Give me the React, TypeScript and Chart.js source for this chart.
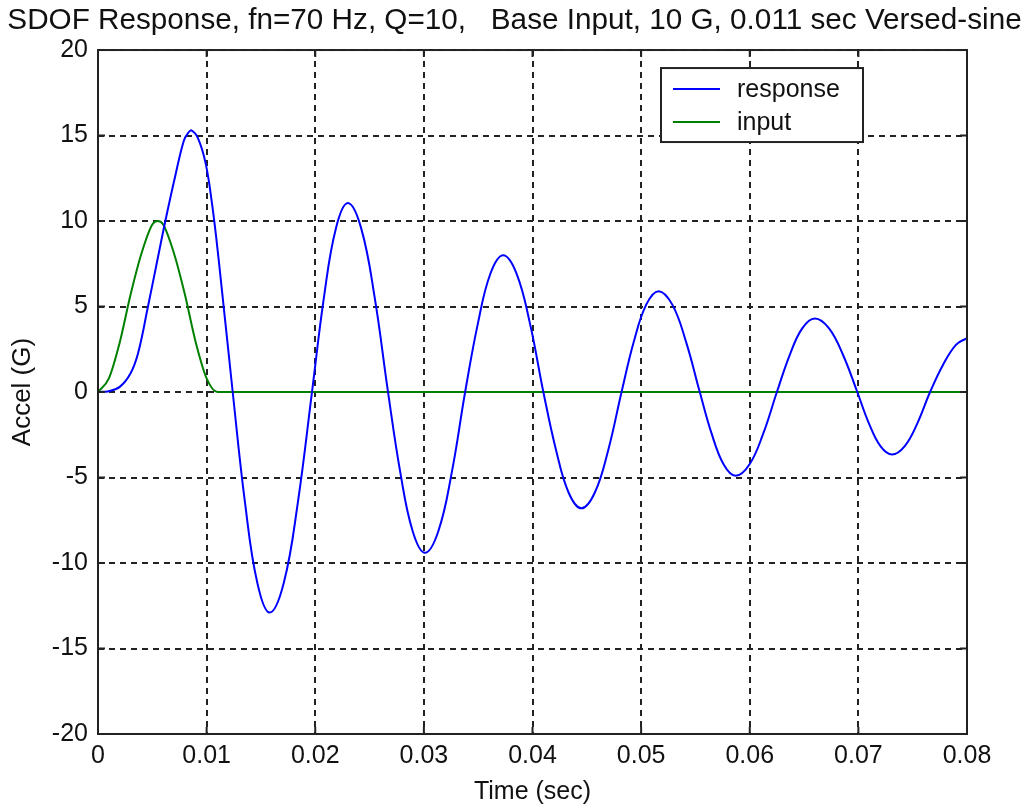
import React, { useEffect, useRef } from "react";
import { Chart, registerables } from "chart.js";

Chart.register(...registerables);

// ---- Data ----
const titleText = "SDOF Response, fn=70 Hz, Q=10,   Base Input, 10 G, 0.011 sec Versed-sine";
const xAxisTitle = "Time (sec)";
const yAxisTitle = "Accel (G)";
const seriesNames = ["response", "input"];

const xTickLabels = ["0", "0.01", "0.02", "0.03", "0.04", "0.05", "0.06", "0.07", "0.08"];

const responseTime = [
  0, 0.001, 0.002, 0.003, 0.0037, 0.0046, 0.0054, 0.0062, 0.0071, 0.0079, 0.0083, 0.0086,
  0.0092, 0.0099, 0.0105, 0.0111, 0.0124,
  0.01353, 0.01467, 0.0158, 0.0171, 0.0184, 0.0197,
  0.0208, 0.0219, 0.023, 0.02423, 0.02547, 0.0267,
  0.02783, 0.02897, 0.0301, 0.03133, 0.03257, 0.0338,
  0.03497, 0.03613, 0.0373, 0.03853, 0.03977, 0.041,
  0.04217, 0.04333, 0.0445, 0.04573, 0.04697, 0.0482,
  0.04933, 0.05047, 0.0516, 0.05287, 0.05413, 0.0554,
  0.0565, 0.0576, 0.0587, 0.05997, 0.06123, 0.0625,
  0.06367, 0.06483, 0.066, 0.0673, 0.0686, 0.0699,
  0.07097, 0.07203, 0.0731, 0.07427, 0.07543, 0.0766,
  0.0778, 0.079, 0.08,
];
const responseAccel = [
  0, 0.05, 0.3, 1.1, 2.3, 5.0, 7.5, 10.0, 12.6, 14.7, 15.15, 15.3,
  14.85, 13.4, 11.0, 7.8, 0,
  -6.45, -11.17, -12.9, -11.17, -6.45, 0,
  5.53, 9.57, 11.05, 9.57, 5.53, 0,
  -4.7, -8.14, -9.4, -8.14, -4.7, 0,
  4.0, 6.93, 8.0, 6.93, 4.0, 0,
  -3.4, -5.89, -6.8, -5.89, -3.4, 0,
  2.95, 5.11, 5.9, 5.11, 2.95, 0,
  -2.45, -4.24, -4.9, -4.24, -2.45, 0,
  2.15, 3.72, 4.3, 3.72, 2.15, 0,
  -1.83, -3.16, -3.65, -3.16, -1.83, 0,
  1.6, 2.77, 3.15,
];

const inputTime = [0, 0.001, 0.002, 0.003, 0.004, 0.005, 0.0055, 0.006, 0.007, 0.008, 0.009, 0.01, 0.011, 0.08];
const inputAccel = [0, 0.8, 2.9, 5.7, 8.1, 9.8, 10.0, 9.8, 8.1, 5.7, 2.9, 0.8, 0, 0];

const seriesColors = ["#0000ff", "#008000"];

const framePlugin = {
  id: "matlabFrame",
  afterDatasetsDraw(chart: any) {
    const { ctx, chartArea } = chart;
    const { left, right, top, bottom } = chartArea;
    const xs = chart.scales.x;
    const ys = chart.scales.y;
    const tl = 7;
    ctx.save();
    ctx.strokeStyle = "#222";
    ctx.lineWidth = 2;
    ctx.setLineDash([]);
    ctx.beginPath();
    xs.ticks.forEach((t: any) => {
      const px = xs.getPixelForValue(t.value);
      ctx.moveTo(px, bottom);
      ctx.lineTo(px, bottom - tl);
      ctx.moveTo(px, top);
      ctx.lineTo(px, top + tl);
    });
    ys.ticks.forEach((t: any) => {
      const py = ys.getPixelForValue(t.value);
      ctx.moveTo(left, py);
      ctx.lineTo(left + tl, py);
      ctx.moveTo(right, py);
      ctx.lineTo(right - tl, py);
    });
    ctx.stroke();
    ctx.strokeRect(left, top, right - left, bottom - top);
    ctx.restore();
  },
  afterDraw(chart: any) {
    const { ctx, chartArea } = chart;
    const w = 202;
    const h = 74;
    const bx = chartArea.right - 104 - w;
    const by = chartArea.top + 18;
    ctx.save();
    ctx.fillStyle = "#fff";
    ctx.fillRect(bx, by, w, h);
    ctx.strokeStyle = "#222";
    ctx.lineWidth = 2;
    ctx.setLineDash([]);
    ctx.strokeRect(bx, by, w, h);
    chart.data.datasets.forEach((ds: any, i: number) => {
      const y = by + 21 + i * 33;
      ctx.strokeStyle = ds.borderColor;
      ctx.lineWidth = 2;
      ctx.beginPath();
      ctx.moveTo(bx + 12, y);
      ctx.lineTo(bx + 59, y);
      ctx.stroke();
      ctx.fillStyle = "#111";
      ctx.font = "25px 'Liberation Sans', Arial, sans-serif";
      ctx.textBaseline = "middle";
      ctx.textAlign = "left";
      ctx.fillText(ds.label, bx + 76, y + 1);
    });
    ctx.restore();
  },
};

export default function App() {
  const canvasRef = useRef<HTMLCanvasElement | null>(null);

  useEffect(() => {
    const canvas = canvasRef.current;
    if (!canvas) return;
    const fontFamily = "'Liberation Sans', Arial, sans-serif";
    const chart = new Chart(canvas, {
      type: "line",
      data: {
        datasets: [
          {
            label: seriesNames[0],
            data: responseTime.map((t, i) => ({ x: t, y: responseAccel[i] })),
            borderColor: seriesColors[0],
            borderWidth: 2,
            pointRadius: 0,
            tension: 0.4,
            fill: false,
          },
          {
            label: seriesNames[1],
            data: inputTime.map((t, i) => ({ x: t, y: inputAccel[i] })),
            borderColor: seriesColors[1],
            borderWidth: 2,
            pointRadius: 0,
            cubicInterpolationMode: "monotone",
            fill: false,
          },
        ],
      },
      options: {
        responsive: false,
        animation: false,
        layout: { padding: 0 },
        plugins: {
          legend: { display: false },
          tooltip: { enabled: false },
          title: {
            display: true,
            text: titleText,
            color: "#111",
            font: { family: fontFamily, size: 29.7, weight: "normal", lineHeight: 1.2 },
            padding: { top: 3, bottom: 11.4 },
          },
        },
        scales: {
          x: {
            type: "linear",
            min: 0,
            max: 0.08,
            afterFit: (scale: any) => {
              scale.height = 76;
            },
            ticks: {
              stepSize: 0.01,
              autoSkip: false,
              maxRotation: 0,
              padding: 7,
              color: "#111",
              font: { family: fontFamily, size: 25, lineHeight: 1.2 },
              callback: (value: any, index: number) => xTickLabels[index] ?? String(value),
            },
            grid: { color: "#222", lineWidth: 2, drawTicks: false },
            border: { display: false, dash: [6, 5] },
            title: {
              display: true,
              text: xAxisTitle,
              color: "#111",
              font: { family: fontFamily, size: 25, lineHeight: 1.2 },
              padding: { top: 0, bottom: 3 },
            },
          },
          y: {
            type: "linear",
            min: -20,
            max: 20,
            afterFit: (scale: any) => {
              scale.width = 98;
            },
            ticks: {
              stepSize: 5,
              padding: 10,
              color: "#111",
              font: { family: fontFamily, size: 25, lineHeight: 1.2 },
            },
            grid: { color: "#222", lineWidth: 2, drawTicks: false },
            border: { display: false, dash: [6, 5] },
            title: {
              display: true,
              text: yAxisTitle,
              color: "#111",
              font: { family: fontFamily, size: 26, lineHeight: 1.2 },
              padding: { top: 7, bottom: 0 },
            },
          },
          yRight: {
            type: "linear",
            position: "right",
            min: -20,
            max: 20,
            afterFit: (scale: any) => {
              scale.width = 62;
            },
            ticks: { display: false },
            grid: { display: false, drawOnChartArea: false },
            border: { display: false },
          },
        },
      },
      plugins: [framePlugin],
    } as any);
    return () => chart.destroy();
  }, []);

  return (
    <div style={{ position: "absolute", left: 0, top: 0, width: 1029, height: 810, background: "#fff" }}>
      <canvas ref={canvasRef} width={1029} height={810} style={{ display: "block" }} />
    </div>
  );
}
